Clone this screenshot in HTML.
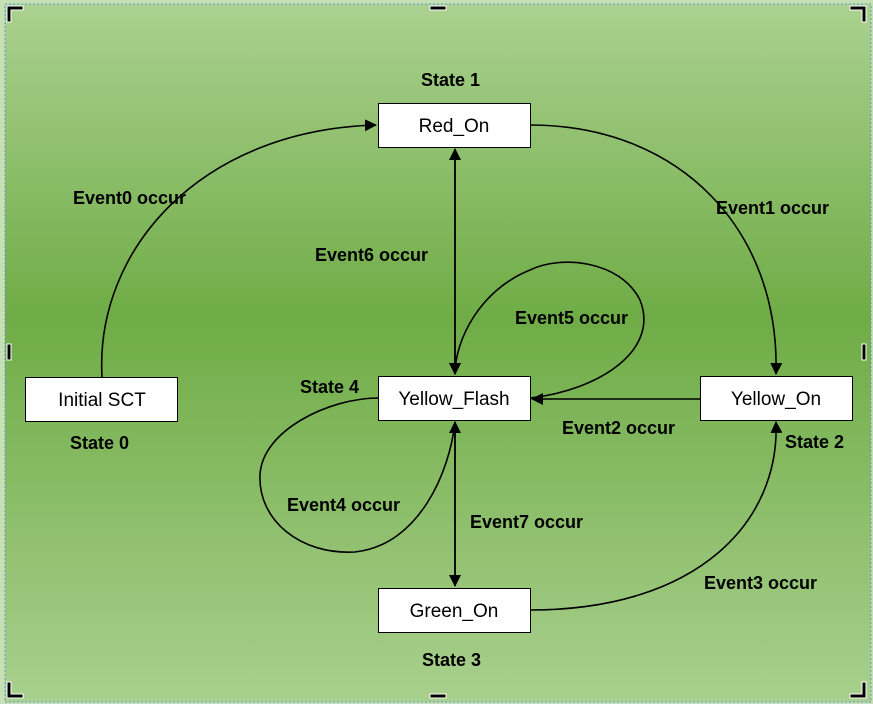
<!DOCTYPE html><html><head><style>
body{margin:0;width:873px;height:704px;overflow:hidden;background:#c6e0b4}
svg{display:block}
text{font-family:"Liberation Sans",sans-serif}
.l{font-weight:bold;font-size:18px;fill:#000}
.b{font-size:19px;fill:#000;text-anchor:middle}
</style></head><body>
<svg width="873" height="704">
<defs>
<linearGradient id="g" x1="0" y1="0" x2="0" y2="1">
<stop offset="0" stop-color="#abd190"/><stop offset="0.45" stop-color="#6fac46"/><stop offset="1" stop-color="#a9d08e"/>
</linearGradient>
<marker id="a" markerWidth="12" markerHeight="12" refX="11" refY="6" orient="auto" markerUnits="userSpaceOnUse"><path d="M0,0 L12,6 L0,12z" fill="#000"/></marker>
</defs>
<rect x="5" y="4" width="866" height="698" fill="url(#g)"/>
<rect x="5" y="4" width="866" height="698" fill="none" stroke="#5b9bd5" stroke-dasharray="2,2"/>
<g fill="none" stroke="#000" stroke-width="1.6">
<path d="M102,377 C95,250 200,130 376,125" marker-end="url(#a)"/>
<path d="M530,125 C680,125 780,230 776,374" marker-end="url(#a)"/>
<path d="M455,160 L455,374" marker-end="url(#a)"/>
<path d="M455,364 L455,149" marker-end="url(#a)"/>
<path d="M530,398 C600,390 660,350 640,300 C620,260 560,255 530,270 C480,290 455,340 455,374" marker-end="url(#a)"/>
<path d="M700,399 L532,399" marker-end="url(#a)"/>
<path d="M455,430 L455,586" marker-end="url(#a)"/>
<path d="M455,580 L455,422" marker-end="url(#a)"/>
<path d="M378,398 C330,398 262,430 260,475 C258,520 300,555 355,552 C420,545 450,470 455,422"/>
<path d="M530,610 C700,610 780,520 776,422" marker-end="url(#a)"/>
</g>
<g fill="#fff" stroke="#000" stroke-width="1">
<rect x="378.5" y="103.5" width="152" height="44"/>
<rect x="25.5" y="377.5" width="152" height="44"/>
<rect x="378.5" y="376.5" width="152" height="44"/>
<rect x="700.5" y="376.5" width="152" height="44"/>
<rect x="378.5" y="588.5" width="152" height="44"/>
</g>
<text class="b" x="454" y="132">Red_On</text>
<text class="b" x="102" y="406">Initial SCT</text>
<text class="b" x="454" y="405">Yellow_Flash</text>
<text class="b" x="776" y="405">Yellow_On</text>
<text class="b" x="454" y="617">Green_On</text>
<text class="l" x="421" y="86">State 1</text>
<text class="l" x="73" y="204">Event0 occur</text>
<text class="l" x="716" y="214">Event1 occur</text>
<text class="l" x="315" y="261">Event6 occur</text>
<text class="l" x="515" y="324">Event5 occur</text>
<text class="l" x="300" y="393">State 4</text>
<text class="l" x="562" y="434">Event2 occur</text>
<text class="l" x="785" y="448">State 2</text>
<text class="l" x="70" y="449">State 0</text>
<text class="l" x="287" y="511">Event4 occur</text>
<text class="l" x="470" y="528">Event7 occur</text>
<text class="l" x="704" y="589">Event3 occur</text>
<text class="l" x="422" y="666">State 3</text>
<g fill="#000" stroke="#fff" stroke-width="1">
<path d="M7,6 h16 v4 h-12 v12 h-4z"/>
<path d="M866,6 h-16 v4 h12 v12 h4z"/>
<path d="M7,698 h16 v-4 h-12 v-12 h-4z"/>
<path d="M866,698 h-16 v-4 h12 v-12 h4z"/>
<rect x="430" y="6" width="16" height="4"/>
<rect x="430" y="694" width="16" height="4"/>
<rect x="7" y="344" width="4" height="16"/>
<rect x="862" y="344" width="4" height="16"/>
</g>
</svg>
</body></html>
